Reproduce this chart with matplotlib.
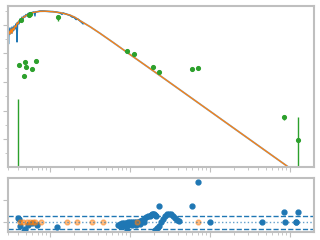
import numpy as np
import matplotlib
matplotlib.use("Agg")
import matplotlib.pyplot as plt
from matplotlib.ticker import FixedLocator

# model spectrum (orange)
model_wave = [0.299, 0.307, 0.316, 0.326, 0.335, 0.345, 0.355, 0.365, 0.376, 0.387,
              0.398, 0.410, 0.422, 0.434, 0.447, 0.473, 0.501, 0.531, 0.562, 0.613,
              0.668, 0.750, 0.866, 1.0, 1.155, 1.334, 1.540, 1.778, 2.054, 2.371,
              3.162, 4.217, 6.49, 10.0, 23.7, 75.0, 237.0, 1334.0]
model_flux = [1.7e-13, 3.8e-13, 2.3e-13, 5.2e-13, 2.7e-13, 6.2e-13, 4.5e-13, 8.5e-13, 7.2e-13, 1.4e-12,
              1.2e-12, 1.9e-12, 2.2e-12, 1.9e-12, 3.1e-12, 3.6e-12, 4.6e-12, 5.5e-12, 6.4e-12, 7.5e-12,
              8.2e-12, 9.1e-12, 9.3e-12, 8.8e-12, 8.2e-12, 7.3e-12, 6.1e-12, 4.9e-12, 3.4e-12, 2.0e-12,
              7.6e-13, 2.6e-13, 4.8e-14, 8.5e-15, 2.8e-16, 2.8e-18, 2.8e-20, 2.8e-23]

# observed spectrum (blue)
spec_wave = [0.299, 0.303, 0.307, 0.316, 0.326, 0.335, 0.345, 0.355, 0.365, 0.376,
             0.381, 0.387, 0.393, 0.398, 0.410, 0.422, 0.434, 0.447, 0.460, 0.473,
             0.487, 0.501, 0.516, 0.531, 0.562, 0.596, 0.631, 0.649, 0.659, 0.708,
             0.750, 0.818, 0.891, 1.0, 1.090, 1.189, 1.334, 1.413, 1.454, 1.585,
             1.778, 1.884, 1.995, 2.113, 2.239, 2.371, 2.585]
spec_flux = [4.5e-13, 4.6e-14, 3.2e-13, 6.2e-13, 2.7e-13, 7.2e-13, 3.8e-13, 8.5e-13, 5.2e-13, 1.2e-12,
             1.0e-12, 6.4e-14, 1.0e-12, 1.6e-12, 1.2e-12, 2.6e-12, 1.6e-12, 3.6e-12, 2.6e-12, 4.3e-12,
             3.6e-12, 5.5e-12, 4.3e-12, 6.4e-12, 7.0e-12, 7.5e-12, 8.2e-12, 4.3e-12, 8.2e-12, 8.8e-12,
             9.6e-12, 9.6e-12, 9.1e-12, 8.8e-12, 8.8e-12, 8.2e-12, 7.0e-12, 5.5e-12, 7.0e-12, 5.9e-12,
             4.6e-12, 3.6e-12, 3.4e-12, 2.4e-12, 2.6e-12, 1.9e-12, 1.2e-12]

# photometry (green)
phot_wave = [0.413, 0.491, 0.506, 0.477, 0.601, 0.674, 0.430, 0.545, 0.557, 1.248,
             9.1, 11.3, 19.6, 22.8, 60.1, 71.4, 849.0, 1241.0, 0.402]
phot_flux = [1.49e-15, 2.41e-15, 1.08e-15, 2.51e-16, 7.8e-16, 2.98e-15, 2.24e-12, 5.1e-12, 5.5e-12, 3.47e-12,
             1.50e-14, 9.2e-15, 1.13e-15, 4.8e-16, 7.8e-16, 9.1e-16, 3.5e-19, 8.1e-21, -1.0e-18]
phot_err = [7e-17, 1.2e-16, 5e-17, 1.2e-17, 4e-17, 1.5e-16, 1.1e-13, 2.5e-13, 2.7e-13, 1.6e-12,
            7e-16, 4e-16, 6e-17, 2e-17, 4e-17, 4e-17, 1.3e-19, 3.4e-19, 7.2e-18]

# residuals
res_wave = [0.402, 0.413, 0.422, 0.487, 0.473, 0.535, 0.590, 0.682, 1.234, 9.09,
            23.2, 60.1, 71.4, 100.0, 443.0, 849.0, 874.0, 1189.0, 1200.0, 1270.0]
res_val = [0.19, 0.133, -0.164, -0.31, -0.372, -0.12, -0.044, -0.12, -0.195, -0.34,
           0.72, 0.72, 1.81, 0.0, 0.0, 0.44, 0.0, 0.0, 0.0, 0.44]

irs_wave = [7.08, 7.50, 7.94, 8.41, 8.91, 9.44, 10.0, 10.59, 11.22, 11.89,
            12.59, 13.34, 14.13, 14.96, 15.85, 16.79, 17.78, 18.30, 18.84, 19.39,
            19.95, 20.54, 21.13, 20.54, 21.75, 23.05, 24.41, 25.85, 27.38, 29.00,
            30.72, 32.54, 34.47, 36.52, 38.68, 40.97,
            7.50, 8.41, 9.44, 10.59, 11.89, 13.34, 14.96]
irs_res = [-0.12, -0.075, -0.053, -0.031, -0.031, -0.009, -0.009, 0.013, 0.013, 0.013,
           0.013, 0.035, 0.08, 0.146, 0.212, 0.257, 0.301, 0.345, 0.367, 0.389,
           0.389, 0.323, 0.279, -0.341, -0.252, -0.164, 0.013, 0.146, 0.279, 0.367,
           0.389, 0.367, 0.301, 0.19, 0.10, 0.058,
           -0.16, -0.15, -0.13, -0.12, -0.11, -0.09, 0.02]

zero_wave = [0.422, 0.463, 0.511, 0.562, 0.618, 0.649, 0.765, 1.645, 2.194, 3.378,
             4.637, 12.33, 71.4]
zero_val = [0.0] * len(zero_wave)

major_y = [1e-22, 1e-20, 1e-18, 1e-16, 1e-14, 1e-12]
minor_y = [1e-21, 1e-19, 1e-17, 1e-15, 1e-13, 1e-11]

spine_col = "#bfbfbf"

fig = plt.figure(figsize=(3.2, 2.4), dpi=100)
ax = fig.add_axes([0.025, 0.304, 0.955, 0.671])
ax2 = fig.add_axes([0.025, 0.035, 0.955, 0.225])

ax.plot(spec_wave, spec_flux, color="tab:blue", lw=1)
ax.plot(model_wave, model_flux, color="tab:blue", lw=1.3, alpha=0.6)
ax.plot(model_wave, model_flux, color="tab:orange", lw=0.9)
ax.errorbar(phot_wave, phot_flux, yerr=phot_err, fmt="o", color="tab:green",
            ms=2.7, elinewidth=1, capsize=0)
ax.set_xscale("log")
ax.set_yscale("log")
ax.set_xlim(0.2985, 1967)
ax.set_ylim(1.08e-22, 2.15e-11)
ax.yaxis.set_major_locator(FixedLocator(major_y))
ax.yaxis.set_minor_locator(FixedLocator(minor_y))

ax2.plot(irs_wave, irs_res, "o", color="tab:blue", ms=3.5)
ax2.plot(res_wave, res_val, "o", color="tab:blue", ms=3.5)
ax2.plot(zero_wave, zero_val, "o", color="tab:orange", ms=3.5, alpha=0.5)
ax2.axhline(0, color="tab:blue", ls=":", lw=1, alpha=0.7)
ax2.axhline(0.3, color="tab:blue", ls="--", lw=1)
ax2.axhline(-0.3, color="tab:blue", ls="--", lw=1)
ax2.set_xscale("log")
ax2.set_xlim(0.2985, 1967)
ax2.set_ylim(-0.42, 2.0)
ax2.set_yticks([0, 1])

for a in (ax, ax2):
    for s in a.spines.values():
        s.set_color(spine_col)
        s.set_linewidth(1.5)
    a.tick_params(which="both", colors=spine_col, labelleft=False, labelbottom=False)

fig.savefig("out.png", dpi=100)
